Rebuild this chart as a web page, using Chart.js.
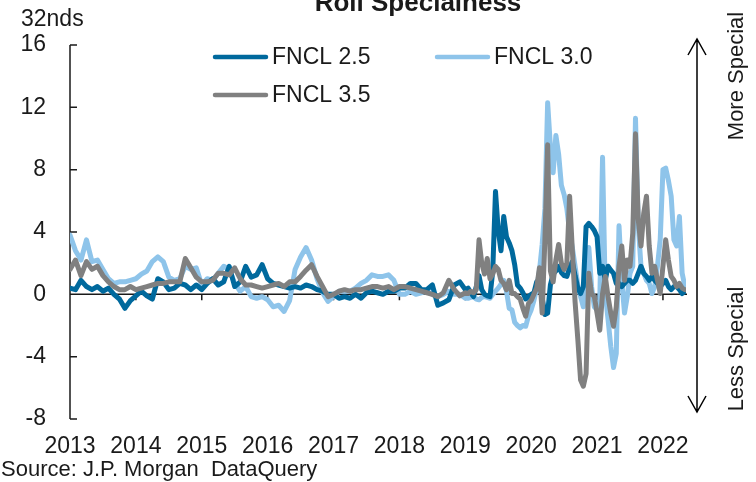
<!DOCTYPE html>
<html>
<head>
<meta charset="utf-8">
<script src="https://cdn.jsdelivr.net/npm/chart.js@4.4.1/dist/chart.umd.min.js"></script>
<style>
html, body { margin: 0; padding: 0; background: #fff; }
</style>
</head>
<body>
<canvas id="myCanvas" width="756" height="482"></canvas>
<script>
// Dates: monthly 2013 - 2018, then half-monthly from 2019
let dates = [];
for (let m = 0; m < 72; m++) dates.push(2013 + m / 12);
for (let k = 0; k <= 80; k++) dates.push(2019 + k / 24);

let fncl25 = [
    0.4, 0.3, 0.9, 0.5, 0.3, 0.5, 0.2, 0.4, 0.0, -0.3, -0.9, -0.4,
    -0.1, 0.2, -0.1, -0.3, 1.0, 0.8, 0.3, 0.4, 0.7, 0.6, 0.3, 0.6,
    0.3, 0.7, 1.0, 0.6, 0.8, 1.8, 0.5, 0.8, 1.8, 1.1, 1.25, 1.9,
    1.0, 0.7, 0.6, 0.5, 0.4, 0.5, 0.4, 0.6, 0.5, 0.3, 0.2, 0.0,
    0.0, -0.25, -0.15, -0.25, 0.0, -0.25, 0.1, 0.2, 0.1, 0.0, 0.2, 0.2,
    0.4, 0.4, 0.7, 0.7, 0.3, 0.3, 0.6, -0.7, -0.55, -0.35, 0.6, 0.8,
    // 2019 half-monthly
    0.3, 0.4, 0.1, -0.15, 0.5, 1.2, 0.3, 0.0, -0.1, -0.15, 1.5, 6.6,
    4.1, 2.8, 5.0, 3.7, 3.3, 2.8, 1.9, 0.6, 0.4, 0.1, -0.3, -0.15,
    0.0, 0.1, 0.8, 0.7, -0.2, -1.3, -1.2, 0.6, 1.3, 1.5, 1.8, 1.4,
    1.2, 1.15, 1.7, 2.1, 1.2, 0.4, 0.05, 0.5, 4.35, 4.55, 4.35, 4.1,
    3.7, 1.35, 1.8, 0.9, 1.8, 1.55, 1.35, 0.7, 0.7, 0.5, 0.7, 0.9,
    0.9, 0.7, 0.9, 1.35, 1.8, 1.35, 1.15, 0.9, 1.15, 0.9, 0.7, 0.5,
    0.7, 0.9, 0.5, 0.3, 0.5, 0.5, 0.3, 0.05, 0.2
];

let fncl30 = [
    3.8, 2.8, 2.2, 3.5, 2.1, 2.2, 1.6, 1.0, 0.7, 0.8, 0.8, 0.9,
    1.0, 1.3, 1.5, 2.1, 2.4, 2.1, 1.1, 0.9, 1.0, 1.8, 1.6, 1.7,
    0.6, 1.0, 0.9, 1.35, 1.8, 1.6, 0.7, 0.2, 0.5, -0.15, -0.25, -0.15,
    -0.35, -0.8, -0.7, -1.1, -0.4, 1.6, 2.4, 3.0, 2.2, 1.0, 0.1, -0.45,
    -0.15, 0.2, 0.2, 0.2, 0.4, 0.7, 0.9, 1.25, 1.15, 1.15, 1.25, 0.9,
    0.0, 0.0, 0.2, 0.0, 0.1, 0.2, 0.0, -0.15, 0.0, 0.2, 0.0, 0.0,
    // 2019 half-monthly
    -0.25, -0.25, -0.2, -0.15, -0.3, -0.35, -0.2, -0.15, -0.2, -0.25, 0.0, 0.2,
    0.4, 0.65, 0.9, 0.2, -0.9, -1.0, -1.8, -2.0, -2.15, -2.0, -2.05, -1.4,
    -1.0, -0.4, 0.4, 1.5, 3.2, 5.5, 12.3, 9.5, 7.8, 10.2, 9.0, 7.0,
    6.4, 5.5, 4.0, 3.0, 1.8, 0.6, -0.15, -0.8, 1.8, 3.0, 0.5, -0.8,
    -1.0, -0.35, 8.8, 0.05, -1.6, -3.35, -4.7, -3.8, 4.4, 0.9, -1.2, -0.15,
    1.35, 1.8, 11.3, 4.5, 1.8, 1.35, 0.9, 0.7, 0.05, 0.5, 1.8, 3.5,
    8.0, 8.1, 7.3, 6.3, 3.5, 3.1, 5.0, 1.35, 0.5
];

let fncl35 = [
    1.6, 2.2, 1.2, 2.1, 1.6, 1.8, 1.2, 0.8, 0.5, 0.3, 0.3, 0.5,
    0.3, 0.4, 0.5, 0.6, 0.7, 0.7, 0.8, 0.8, 0.8, 2.3, 1.7, 1.1,
    0.8, 0.8, 0.9, 1.35, 1.35, 1.25, 1.7, 1.0, 0.6, 0.6, 0.5, 0.4,
    0.5, 0.6, 0.7, 0.5, 0.8, 0.8, 1.15, 1.55, 1.9, 1.15, 0.5, -0.15,
    0.0, 0.2, 0.3, 0.2, 0.3, 0.3, 0.4, 0.5, 0.5, 0.4, 0.5, 0.3,
    0.5, 0.5, 0.4, 0.3, 0.2, 0.1, 0.0, -0.15, 0.1, 0.9, 0.3, -0.1,
    // 2019 half-monthly
    0.1, 0.05, 0.2, 0.1, 0.3, 3.5, 2.0, 1.3, 2.3, 1.0, 1.3, 1.8,
    1.6, 0.9, 0.7, 0.3, 0.9, 0.05, 0.05, -0.15, -0.3, -0.9, -1.4, -0.6,
    -0.4, 0.0, 0.4, 1.7, -1.2, 3.5, 9.6, 1.5, 0.8, 2.2, 3.2, 2.0,
    1.6, 2.0, 6.3, 2.8, -0.5, -2.9, -5.5, -5.9, -5.1, 1.35, 0.05, -0.15,
    -1.2, -2.3, 0.05, 1.15, -0.15, -1.2, -2.05, -0.8, 1.8, 3.1, 0.9, 2.2,
    1.8, 3.9, 10.3, 4.8, 3.1, 5.2, 6.3, 3.1, 1.35, 1.8, 0.9, 0.05,
    1.8, 3.5, 2.2, 1.15, 0.9, 0.5, 0.7, 0.4, 0.3
];

let anni = [2013, 2014, 2015, 2016, 2017, 2018, 2019, 2020, 2021, 2022];
let yTicks = [16, 12, 8, 4, 0, -4, -8];

const FONT = '"Liberation Sans", Arial, sans-serif';
const INK = '#1a1a1a';

function punti(valori) {
    return dates.map((d, i) => ({ x: d, y: valori[i] }));
}

// assi, legenda, titolo e frecce disegnati a mano
const decorazioni = {
    id: 'decorazioni',
    beforeDatasetsDraw(chart) {
        const ctx = chart.ctx;
        const xs = chart.scales.x, ys = chart.scales.y;
        const area = chart.chartArea;
        const y0 = ys.getPixelForValue(0);
        ctx.save();
        ctx.strokeStyle = INK;
        ctx.lineWidth = 1.5;
        ctx.beginPath();
        ctx.moveTo(area.left, ys.getPixelForValue(16));
        ctx.lineTo(area.left, ys.getPixelForValue(-8));
        yTicks.forEach(t => {
            const py = ys.getPixelForValue(t);
            ctx.moveTo(area.left, py);
            ctx.lineTo(area.left + 7, py);
        });
        ctx.moveTo(area.left, y0);
        ctx.lineTo(area.right + 1, y0);
        anni.forEach(a => {
            const px = xs.getPixelForValue(a);
            ctx.moveTo(px, y0);
            ctx.lineTo(px, y0 + 6);
        });
        ctx.stroke();
        ctx.restore();
    },
    afterDraw(chart) {
        const ctx = chart.ctx;
        const xs = chart.scales.x, ys = chart.scales.y;
        ctx.save();
        ctx.fillStyle = INK;
        ctx.font = '23px ' + FONT;
        ctx.textAlign = 'right';
        ctx.textBaseline = 'middle';
        yTicks.forEach(t => ctx.fillText(String(t), 46, ys.getPixelForValue(t)));
        ctx.textAlign = 'center';
        anni.forEach(a => ctx.fillText(String(a), xs.getPixelForValue(a), 447));

        ctx.textAlign = 'left';
        ctx.fillText('32nds', 21, 20);
        ctx.font = '22px ' + FONT;
        ctx.fillText('Source: J.P. Morgan  DataQuery', 1, 470);

        // titolo (tagliato in alto come nell'originale)
        ctx.font = 'bold 26px ' + FONT;
        ctx.textAlign = 'center';
        ctx.textBaseline = 'alphabetic';
        ctx.fillText('Roll Specialness', 418, 11);

        // legenda
        const voci = [
            { ds: 0, x: 213, y: 57 },
            { ds: 1, x: 435, y: 57 },
            { ds: 2, x: 213, y: 95 }
        ];
        ctx.font = '23px ' + FONT;
        ctx.textAlign = 'left';
        ctx.textBaseline = 'middle';
        ctx.lineCap = 'round';
        voci.forEach(v => {
            const ds = chart.data.datasets[v.ds];
            ctx.strokeStyle = ds.borderColor;
            ctx.lineWidth = 4.5;
            ctx.beginPath();
            ctx.moveTo(v.x + 2, v.y);
            ctx.lineTo(v.x + 53, v.y);
            ctx.stroke();
            ctx.fillStyle = INK;
            ctx.fillText(ds.label, v.x + 59, v.y + 1);
        });

        // freccia doppia
        ctx.strokeStyle = '#000';
        ctx.lineWidth = 1.5;
        ctx.lineCap = 'butt';
        ctx.beginPath();
        ctx.moveTo(697, 39);
        ctx.lineTo(697, 412);
        ctx.moveTo(688, 55);
        ctx.lineTo(697, 39);
        ctx.lineTo(706, 55);
        ctx.moveTo(688, 396);
        ctx.lineTo(697, 412);
        ctx.lineTo(706, 396);
        ctx.stroke();

        ctx.fillStyle = INK;
        ctx.font = '22px ' + FONT;
        ctx.textAlign = 'center';
        ctx.translate(737, 76);
        ctx.rotate(-Math.PI / 2);
        ctx.fillText('More Special', 0, 0);
        ctx.rotate(Math.PI / 2);
        ctx.translate(0, 349 - 76);
        ctx.rotate(-Math.PI / 2);
        ctx.fillText('Less Special', 0, 0);
        ctx.restore();
    }
};

let chart = new Chart(document.getElementById('myCanvas').getContext('2d'), {
    type: 'line',
    data: {
        datasets: [
            { label: 'FNCL 2.5', data: punti(fncl25), borderColor: '#00699D', order: 2 },
            { label: 'FNCL 3.0', data: punti(fncl30), borderColor: '#8EC4EA', order: 3 },
            { label: 'FNCL 3.5', data: punti(fncl35), borderColor: '#808080', order: 1 }
        ]
    },
    options: {
        responsive: false,
        animation: false,
        devicePixelRatio: 1,
        layout: { padding: { left: 70, right: 70, top: 45, bottom: 63 } },
        elements: {
            line: { borderWidth: 5, tension: 0, borderJoinStyle: 'round', borderCapStyle: 'round' },
            point: { radius: 0 }
        },
        scales: {
            x: { type: 'linear', min: 2013, max: 2022.35, display: false },
            y: { type: 'linear', min: -8, max: 16, display: false }
        },
        plugins: {
            legend: { display: false },
            tooltip: { enabled: false }
        }
    },
    plugins: [decorazioni]
});
</script>
</body>
</html>
